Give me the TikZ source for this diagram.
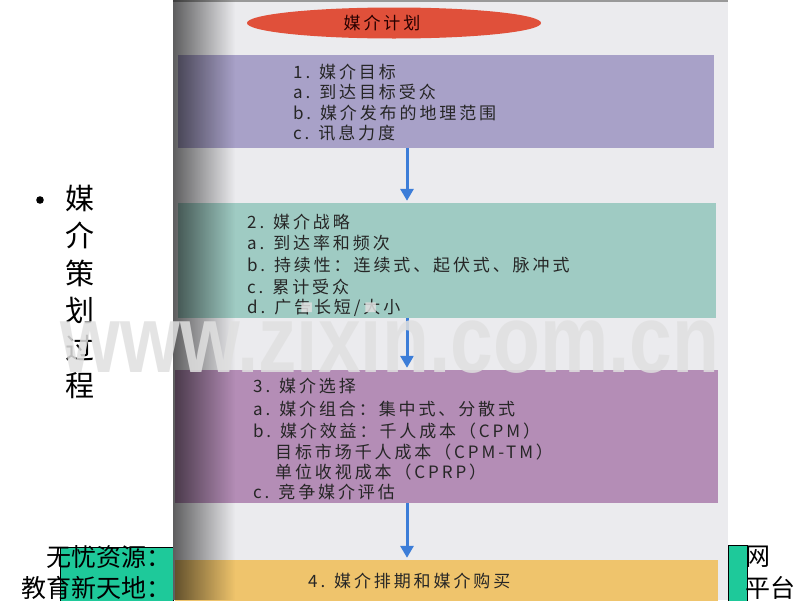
\documentclass[tikz,border=0pt]{standalone}
\usepackage{fontspec}
\setmainfont{Noto Sans CJK SC}
\newfontfamily\spacedcjk[LetterSpace=17]{Noto Sans CJK SC}
\newfontfamily\markfont{Liberation Sans}
\usetikzlibrary{arrows.meta}
\usetikzlibrary{positioning}
\usetikzlibrary{calc}
\usetikzlibrary{fadings}
\usetikzlibrary{shapes.geometric}
\definecolor{planred}{HTML}{E0503A}
\definecolor{goalpurple}{HTML}{A8A1C8}
\definecolor{strategyteal}{HTML}{9FCBC3}
\definecolor{selectmauve}{HTML}{B48DB6}
\definecolor{buyyellow}{HTML}{EFC46C}
\definecolor{pagegray}{HTML}{EBEBEE}
\definecolor{flowblue}{HTML}{3C7DD8}
\definecolor{stripgreen}{HTML}{1EC99A}
\definecolor{inkgray}{HTML}{262626}
\tikzset{>={Triangle[length=12pt,width=13pt]}}
\tikzset{
    stagebox/.style={rectangle, draw=none, inner sep=0pt},
    stagetext/.style={anchor=west, inner sep=0pt, text=inkgray,
        font=\spacedcjk\fontsize{17}{17}\selectfont},
    flow/.style={->, line width=3pt, color=flowblue, shorten >=2pt},
    slidetext/.style={inner sep=0pt, font=\fontsize{25}{25}\selectfont},
}

\begin{document}
\begin{tikzpicture}[x=1pt, y=-1pt] % media planning flow, scanned page on a slide
	\useasboundingbox (0,0) rectangle (800,600);
	\clip (0,0) rectangle (800,600);
	\fill[white] (0,0) rectangle (800,600);
	% slide underneath
	\filldraw[fill=stripgreen, draw=black, line width=0.8pt] (60,547) rectangle (173,610);
	\filldraw[fill=stripgreen, draw=black, line width=0.8pt] (728,545) rectangle (747,610);
	\node[slidetext, anchor=east] (res) at (172,557) {无忧资源：};
	\node[slidetext, anchor=east] (edu) at (172,588) {教育新天地：};
	\node[slidetext, anchor=west] (net) at (745,557) {网};
	\node[slidetext, anchor=west] (plat) at (745,588) {平台};
	\fill (40,200) circle (3.8);
	\foreach \ch [count=\i] in {媒,介,策,划,过,程}
	\node[inner sep=0pt, font=\fontsize{29}{29}\selectfont] (title\i) at (80, {198+37.6*(\i-1)}) {\ch};
	% the page
	\fill[pagegray] (173,0) rectangle (728,600);
	\draw[gray!80, line width=1.5pt] (173,1) -- (728,1);
	\node[ellipse, fill=planred, minimum width=294pt, minimum height=31pt, inner sep=0pt] (plan) at (394,23) {};
	\node[stagetext, anchor=center, text=black!85!red] (plantitle) at (382,23) {媒介计划};
	\node[stagebox, fill=goalpurple, minimum width=536pt, minimum height=93pt] (goal) at (446,101.5) {};
	\node[stagebox, fill=strategyteal, minimum width=538pt, minimum height=115pt] (strategy) at (447,260.5) {};
	\node[stagebox, fill=selectmauve, minimum width=543pt, minimum height=133pt] (select) at (446.5,436.5) {};
	\node[stagebox, fill=buyyellow, minimum width=543pt, minimum height=60pt] (buy) at (446.5,590) {};
	\foreach \txt [count=\i] in {1. 媒介目标, a. 到达目标受众, b. 媒介发布的地理范围, c. 讯息力度}
	\node[stagetext] (goal\i) at (293, {72+20.4*(\i-1)}) {\txt};
	\foreach \txt [count=\i] in {2. 媒介战略, a. 到达率和频次, b. 持续性：连续式、起伏式、脉冲式, c. 累计受众, d. 广告长短/大小}
	\node[stagetext] (strategy\i) at (247, {222+21.5*(\i-1)}) {\txt};
	\foreach \txt [count=\i] in {3. 媒介选择, a. 媒介组合：集中式、分散式, b. 媒介效益：千人成本（CPM）}
	\node[stagetext] (select\i) at (253, {386+22.5*(\i-1)}) {\txt};
	\node[stagetext] (select4) at (275,452) {目标市场千人成本（CPM-TM）};
	\node[stagetext] (select5) at (275,472) {单位收视成本（CPRP）};
	\node[stagetext] (select6) at (253,492) {c. 竞争媒介评估};
	\node[stagetext] (buy1) at (308,581) {4. 媒介排期和媒介购买};
	\coordinate (ax) at (407,0);
	\draw[flow] (goal.south -| ax) -- (strategy.north -| ax);
	\draw[flow] (strategy.south -| ax) -- (select.north -| ax);
	\draw[flow] (select.south -| ax) -- (buy.north -| ax);
	% binding shadow on the left of the page
	\fill[black, path fading=east, fill opacity=0.6] (173,0) rectangle (235,600);
	% watermark
	\node[anchor=base, inner sep=0pt, xscale=0.8, text=white!88!black, opacity=0.85,
	font=\markfont\bfseries\fontsize{96}{96}\selectfont] (mark) at (390,372) {www.zixin.com.cn};
\end{tikzpicture}
\end{document}
